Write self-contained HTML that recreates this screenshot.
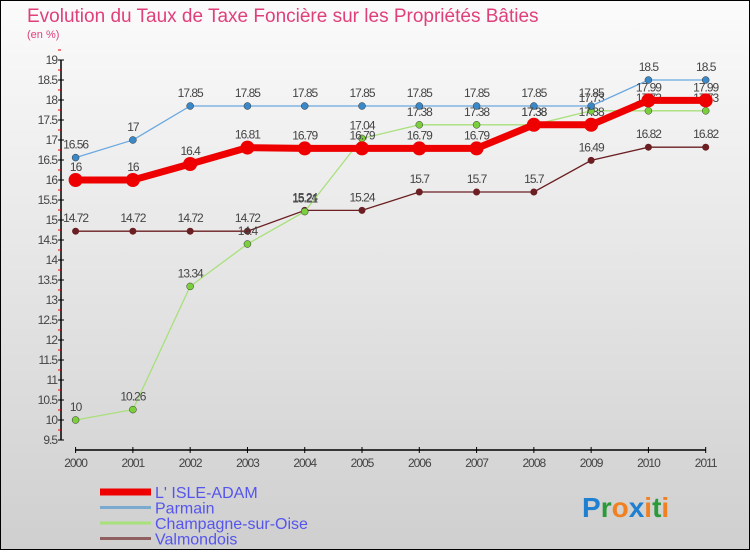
<!DOCTYPE html>
<html><head><meta charset="utf-8"><style>
body{margin:0;}
svg text{font-family:"Liberation Sans",sans-serif;}
</style></head><body>
<svg width="750" height="550" xmlns="http://www.w3.org/2000/svg">
<defs><linearGradient id="bg" x1="0" y1="0" x2="0" y2="1"><stop offset="0" stop-color="#fbfbfb"/><stop offset="1" stop-color="#cfcfcf"/></linearGradient></defs>
<rect x="0.5" y="0.5" width="749" height="549" fill="url(#bg)" stroke="#000"/>
<text x="27" y="22" font-size="19" fill="#e0407a">Evolution du Taux de Taxe Foncière sur les Propriétés Bâties</text>
<text x="27" y="38" font-size="11" fill="#e0407a">(en %)</text>
<g id="axes"></g>
<g id="series"></g>
<g id="legend"></g>
<text x="582" y="517" font-size="28" font-weight="bold"><tspan fill="#1f7fd0">P</tspan><tspan fill="#2a9a3a">r</tspan><tspan fill="#f08020">o</tspan><tspan fill="#1f7fd0">x</tspan><tspan fill="#f08020">i</tspan><tspan fill="#2a9a3a">t</tspan><tspan fill="#f08020">i</tspan></text>
</svg>
<script>
const years=[2000,2001,2002,2003,2004,2005,2006,2007,2008,2009,2010,2011];
const isleAdam=[16,16,16.4,16.81,16.79,16.79,16.79,16.79,17.38,17.38,17.99,17.99];
const parmain=[16.56,17,17.85,17.85,17.85,17.85,17.85,17.85,17.85,17.85,18.5,18.5];
const champagne=[10,10.26,13.34,14.4,15.21,17.04,17.38,17.38,17.38,17.73,17.73,17.73];
const valmondois=[14.72,14.72,14.72,14.72,15.24,15.24,15.7,15.7,15.7,16.49,16.82,16.82];
const yTicks=[9.5,10,10.5,11,11.5,12,12.5,13,13.5,14,14.5,15,15.5,16,16.5,17,17.5,18,18.5,19];
const NS="http://www.w3.org/2000/svg";
const x=i=>75.6+i*(705.7-75.6)/(years.length-1);
const y=v=>440-(v-9.5)*40;
function mk(t,a,p,txt){const e=document.createElementNS(NS,t);for(const k in a)e.setAttribute(k,a[k]);if(txt!==undefined)e.textContent=txt;p.appendChild(e);return e;}
const ax=document.getElementById('axes');
let e=mk('line',{x1:61,y1:60,x2:61,y2:440,stroke:'#000','stroke-width':1.5},ax);


e=mk('line',{x1:75,y1:450,x2:706,y2:450,stroke:'#000','stroke-width':1.5},ax);


yTicks.forEach(v=>{
  mk('line',{x1:58,y1:y(v),x2:64,y2:y(v),stroke:'#000'},ax);
  mk('line',{x1:58,y1:y(v+0.25),x2:61,y2:y(v+0.25),stroke:'#e00'},ax);
  const t=mk('text',{x:57,y:y(v)+4,'font-size':12,'text-anchor':'end',fill:'#444','letter-spacing':'-1'},ax,String(v));
  
  
});
years.forEach((yr,i)=>{
  mk('line',{x1:x(i),y1:447,x2:x(i),y2:453,stroke:'#000'},ax);
  const t=mk('text',{x:x(i),y:467,'font-size':12,'text-anchor':'middle',fill:'#444','letter-spacing':'-1'},ax,String(yr));
  
  
});
const sg=document.getElementById('series');
const defs=[
 {d:valmondois,c:'#6b1f22',w:1.3,r:3.5,n:'valmondois'},
 {d:champagne,c:'#a8e07a',w:1.3,r:3.5,f:'#7ccf3c',n:'champagne'},
 {d:parmain,c:'#6aa8e0',w:1.3,r:3.5,f:'#3a88c8',n:'parmain'},
 {d:isleAdam,c:'#ee0000',w:7,r:7,n:'isle-adam'}];
defs.forEach(s=>{
  const g=mk('g',{},sg);
  
  
  const p=mk('polyline',{points:s.d.map((v,i)=>x(i)+','+y(v)).join(' '),fill:'none',stroke:s.c,'stroke-width':s.w},g);
  
  
  s.d.forEach((v,i)=>{
    const c=mk('circle',{cx:x(i),cy:y(v),r:s.r,fill:s.f||s.c,stroke:s.f?'#333':'none','stroke-width':0.5},g);
    
    
    const t=mk('text',{x:x(i),y:y(v)-9,'font-size':12,'text-anchor':'middle',fill:'#444','letter-spacing':'-1'},g,String(v));
    
    
  });
});
const lg=document.getElementById('legend');
const leg=[['L\' ISLE-ADAM','#ee0000',7],['Parmain','#7aaad0',3],['Champagne-sur-Oise','#a8e07a',3],['Valmondois','#906060',3]];
leg.forEach((l,i)=>{
  const yy=492+i*15.5;
  const g=mk('g',{},lg);
  
  
  mk('line',{x1:100,y1:yy,x2:151,y2:yy,stroke:l[1],'stroke-width':l[2]},g);
  mk('text',{x:155,y:yy+6,'font-size':16,fill:'#5555ee'},g,l[0]);
});
</script>
</body></html>
